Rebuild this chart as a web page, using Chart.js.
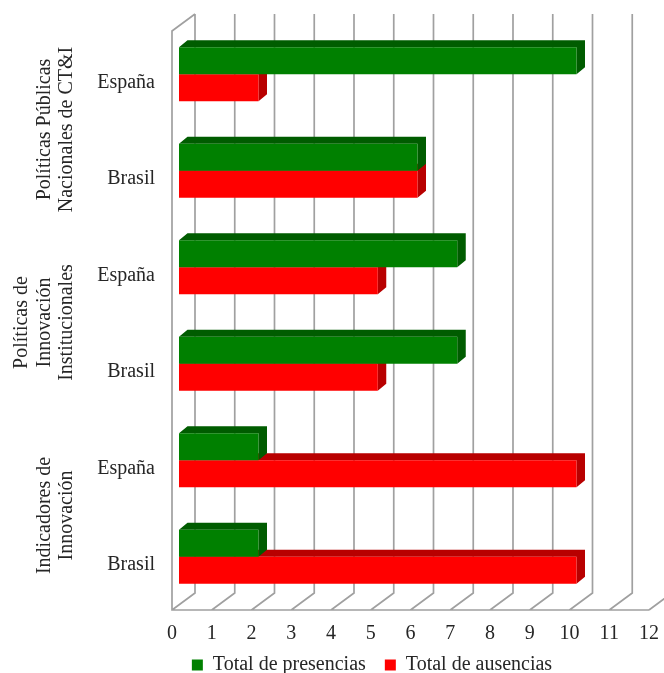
<!DOCTYPE html>
<html>
<head>
<meta charset="utf-8">
<style>
  html, body { margin: 0; padding: 0; background: #fff; }
  canvas { display: block; }
</style>
</head>
<body>
<canvas id="chart" width="664" height="673"></canvas>
<script src="https://cdn.jsdelivr.net/npm/chart.js@4"></script>
<script>
const categories = ['España', 'Brasil', 'España', 'Brasil', 'España', 'Brasil'];
const presencias = [10, 6, 7, 7, 2, 2];
const ausencias = [2, 6, 5, 5, 10, 10];
const groupLabels = [
  ['Políticas Públicas', 'Nacionales de CT&I'],
  ['Políticas de', 'Innovación', 'Institucionales'],
  ['Indicadores de', 'Innovación']
];

const FONT = '"Liberation Serif", serif';
const TEXT = '#262626';
const GRID = '#a0a0a0';

// wall sits 23px right / 17px up from the floor front edge
const WALL_DX = 23, WALL_DY = 17;
// bars are pushed a bit into the box, then have their own depth
const BAR_DX = 7, BAR_DY = 5;
const DEPTH_X = 8.5, DEPTH_Y = 7;

const box3d = {
  id: 'box3d',
  beforeDatasetsDraw(chart) {
    const { ctx, chartArea: a, scales: { x } } = chart;
    ctx.save();
    ctx.strokeStyle = GRID;
    ctx.lineWidth = 1.7;
    ctx.beginPath();
    // left side and floor
    ctx.moveTo(a.left + WALL_DX, a.top - WALL_DY);
    ctx.lineTo(a.left, a.top);
    ctx.lineTo(a.left, a.bottom);
    ctx.lineTo(a.right, a.bottom);
    x.ticks.forEach(t => {
      const px = x.getPixelForValue(t.value);
      ctx.moveTo(px, a.bottom);
      ctx.lineTo(px + WALL_DX, a.bottom - WALL_DY);
      ctx.lineTo(px + WALL_DX, a.top - WALL_DY);
    });
    ctx.stroke();
    ctx.restore();
  },
  beforeDatasetDraw(chart, args) {
    const ctx = chart.ctx;
    const dark = args.index === 0 ? '#005c00' : '#b80000';
    ctx.save();
    ctx.translate(BAR_DX, -BAR_DY);
    ctx.fillStyle = dark;
    args.meta.data.forEach(bar => {
      const top = bar.y - bar.height / 2;
      const bottom = bar.y + bar.height / 2;
      ctx.beginPath();
      ctx.moveTo(bar.base, top);
      ctx.lineTo(bar.base + DEPTH_X, top - DEPTH_Y);
      ctx.lineTo(bar.x + DEPTH_X, top - DEPTH_Y);
      ctx.lineTo(bar.x + DEPTH_X, bottom - DEPTH_Y);
      ctx.lineTo(bar.x, bottom);
      ctx.lineTo(bar.x, top);
      ctx.closePath();
      ctx.fill();
    });
  },
  afterDatasetDraw(chart) {
    chart.ctx.restore();
  },
  afterDraw(chart) {
    // group names rotated to the left of the categories
    const { ctx, scales: { y } } = chart;
    ctx.save();
    ctx.fillStyle = TEXT;
    ctx.font = '20px ' + FONT;
    ctx.textAlign = 'center';
    ctx.textBaseline = 'middle';
    groupLabels.forEach((lines, g) => {
      const cy = (y.getPixelForValue(g * 2) + y.getPixelForValue(g * 2 + 1)) / 2 + 2;
      lines.forEach((line, i) => {
        ctx.save();
        ctx.translate(67 - (lines.length - 1 - i) * 22.5, cy);
        ctx.rotate(-Math.PI / 2);
        ctx.fillText(line, 0, 0);
        ctx.restore();
      });
    });
    ctx.restore();
  }
};

new Chart(document.getElementById('chart').getContext('2d'), {
  type: 'bar',
  data: {
    labels: categories,
    datasets: [
      { label: 'Total de presencias', data: presencias, backgroundColor: '#008000', clip: false },
      { label: 'Total de ausencias', data: ausencias, backgroundColor: '#ff0000', clip: false }
    ]
  },
  options: {
    indexAxis: 'y',
    responsive: false,
    animation: false,
    devicePixelRatio: 1,
    categoryPercentage: 0.56,
    barPercentage: 1,
    layout: { padding: { left: 95, right: 15, top: 31, bottom: -12 } },
    scales: {
      x: {
        min: 0,
        max: 12,
        grid: { display: false },
        border: { display: false },
        ticks: { stepSize: 1, color: TEXT, font: { family: FONT, size: 20 }, padding: 4, maxRotation: 0 },
        afterFit(scale) { scale.height = 36; }
      },
      y: {
        grid: { display: false },
        border: { display: false },
        ticks: { color: TEXT, font: { family: FONT, size: 20 }, padding: 9, labelOffset: 3 },
        afterFit(scale) { scale.width = 77; }
      }
    },
    plugins: {
      legend: {
        position: 'bottom',
        labels: {
          color: TEXT,
          font: { family: FONT, size: 20 },
          boxWidth: 11,
          boxHeight: 11,
          padding: 9,
          // padding also sets the legend height, so widen the gap between items with spaces
          generateLabels(chart) {
            const items = Chart.defaults.plugins.legend.labels.generateLabels(chart);
            items[0].text += '\u00a0\u00a0';
            return items;
          }
        }
      },
      tooltip: { enabled: false }
    }
  },
  plugins: [box3d]
});
</script>
</body>
</html>
